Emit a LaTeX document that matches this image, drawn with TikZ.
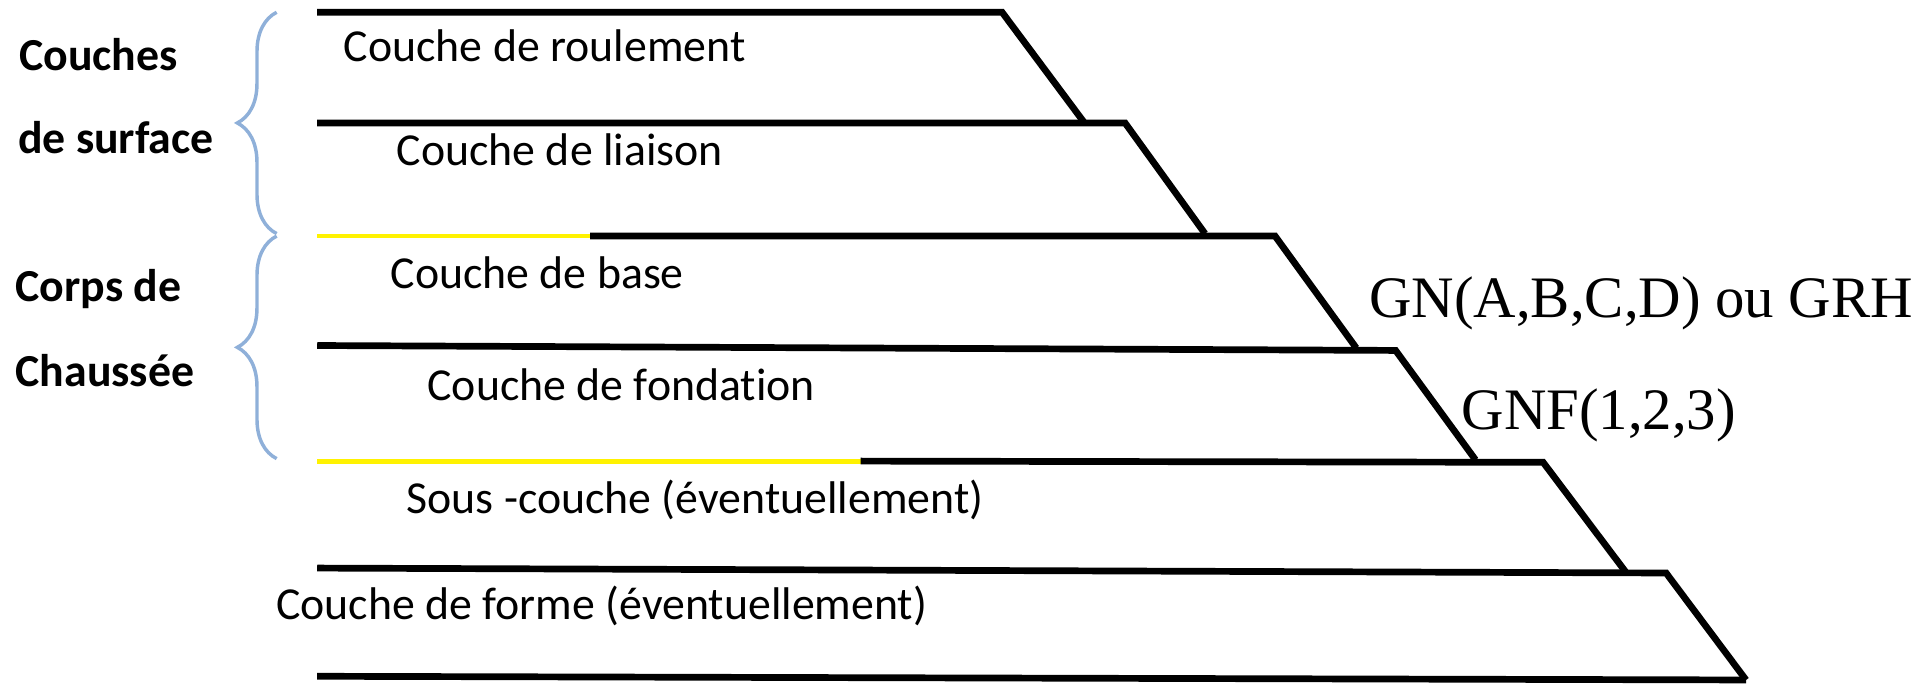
\documentclass[tikz,border=0pt]{standalone}
\usepackage{fontspec}
\setmainfont{Carlito}[Ligatures=NoCommon]
\newfontfamily\gnfont{Liberation Serif}
\usepackage{tikz}
\usetikzlibrary{decorations.pathreplacing}
\definecolor{bracblue}   {RGB}{143, 176, 217}
\definecolor{layyellow}  {RGB}{255, 242,   0}

\begin{document}
\begin{tikzpicture}[
		layer/.style={line width=1.55pt,black},
		sublayer/.style={line width=0.75pt,layyellow},
		lbl/.style={anchor=base west,inner sep=0pt,font=\fontsize{10.6}{12}\selectfont},
		grp/.style={lbl,font=\fontsize{10.6}{12}\selectfont\bfseries},
		gn/.style={anchor=base west,inner sep=0pt,font=\gnfont\fontsize{13.6}{15}\selectfont},
		brc/.style={bracblue,line width=0.8pt,decorate,decoration={brace,amplitude=0.32cm}}
	]
				\useasboundingbox (0,0) rectangle (15.68,5.57);
				% couches (lignes + talus)
				\draw[layer] (2.58,5.47) -- (8.15,5.47) -- (8.82,4.57);
				\draw[layer] (2.58,4.57) -- (9.15,4.57) -- (9.80,3.67);
				\draw[sublayer] (2.58,3.65) -- (4.80,3.65);
				\draw[layer] (4.80,3.65) -- (10.37,3.65) -- (11.03,2.74);
				\draw[layer] (2.58,2.76) -- (11.35,2.72) -- (12.00,1.83);
				\draw[sublayer,line width=1.15pt] (2.58,1.82) -- (7.00,1.82);
				\draw[layer] (7.00,1.82) -- (12.55,1.81) -- (13.22,0.92);
				\draw[layer] (2.58,0.95) -- (13.55,0.91) -- (14.20,0.04);
				\draw[layer] (2.58,0.07) -- (14.20,0.04);
				% accolades
				\draw[brc] (2.25,3.67) -- (2.25,5.47);
				\draw[brc] (2.25,1.84) -- (2.25,3.65);
				% groupes
				\node[grp] (surf1) at (0.15,5.00) {Couches};
				\node[grp] (surf2) at (0.14,4.32) {de surface};
				\node[grp] (corps1) at (0.12,3.12) {Corps de};
				\node[grp] (corps2) at (0.12,2.43) {Chaussée};
				% noms des couches
				\node[lbl] (roul) at (2.79,5.07) {Couche de roulement};
				\node[lbl] (liai) at (3.22,4.22) {Couche de liaison};
				\node[lbl] (base) at (3.17,3.22) {Couche de base};
				\node[lbl] (fond) at (3.47,2.31) {Couche de fondation};
				\node[lbl] (sous) at (3.30,1.39) {Sous -couche (éventuellement)};
				\node[lbl] (forme) at (2.24,0.53) {Couche de forme (éventuellement)};
				% materiaux
				\node[gn] (gnabcd) at (11.13,2.99) {GN(A,B,C,D) ou GRH};
				\node[gn] (gnf) at (11.88,2.08) {GNF(1,2,3)};
			\end{tikzpicture}
\end{document}
